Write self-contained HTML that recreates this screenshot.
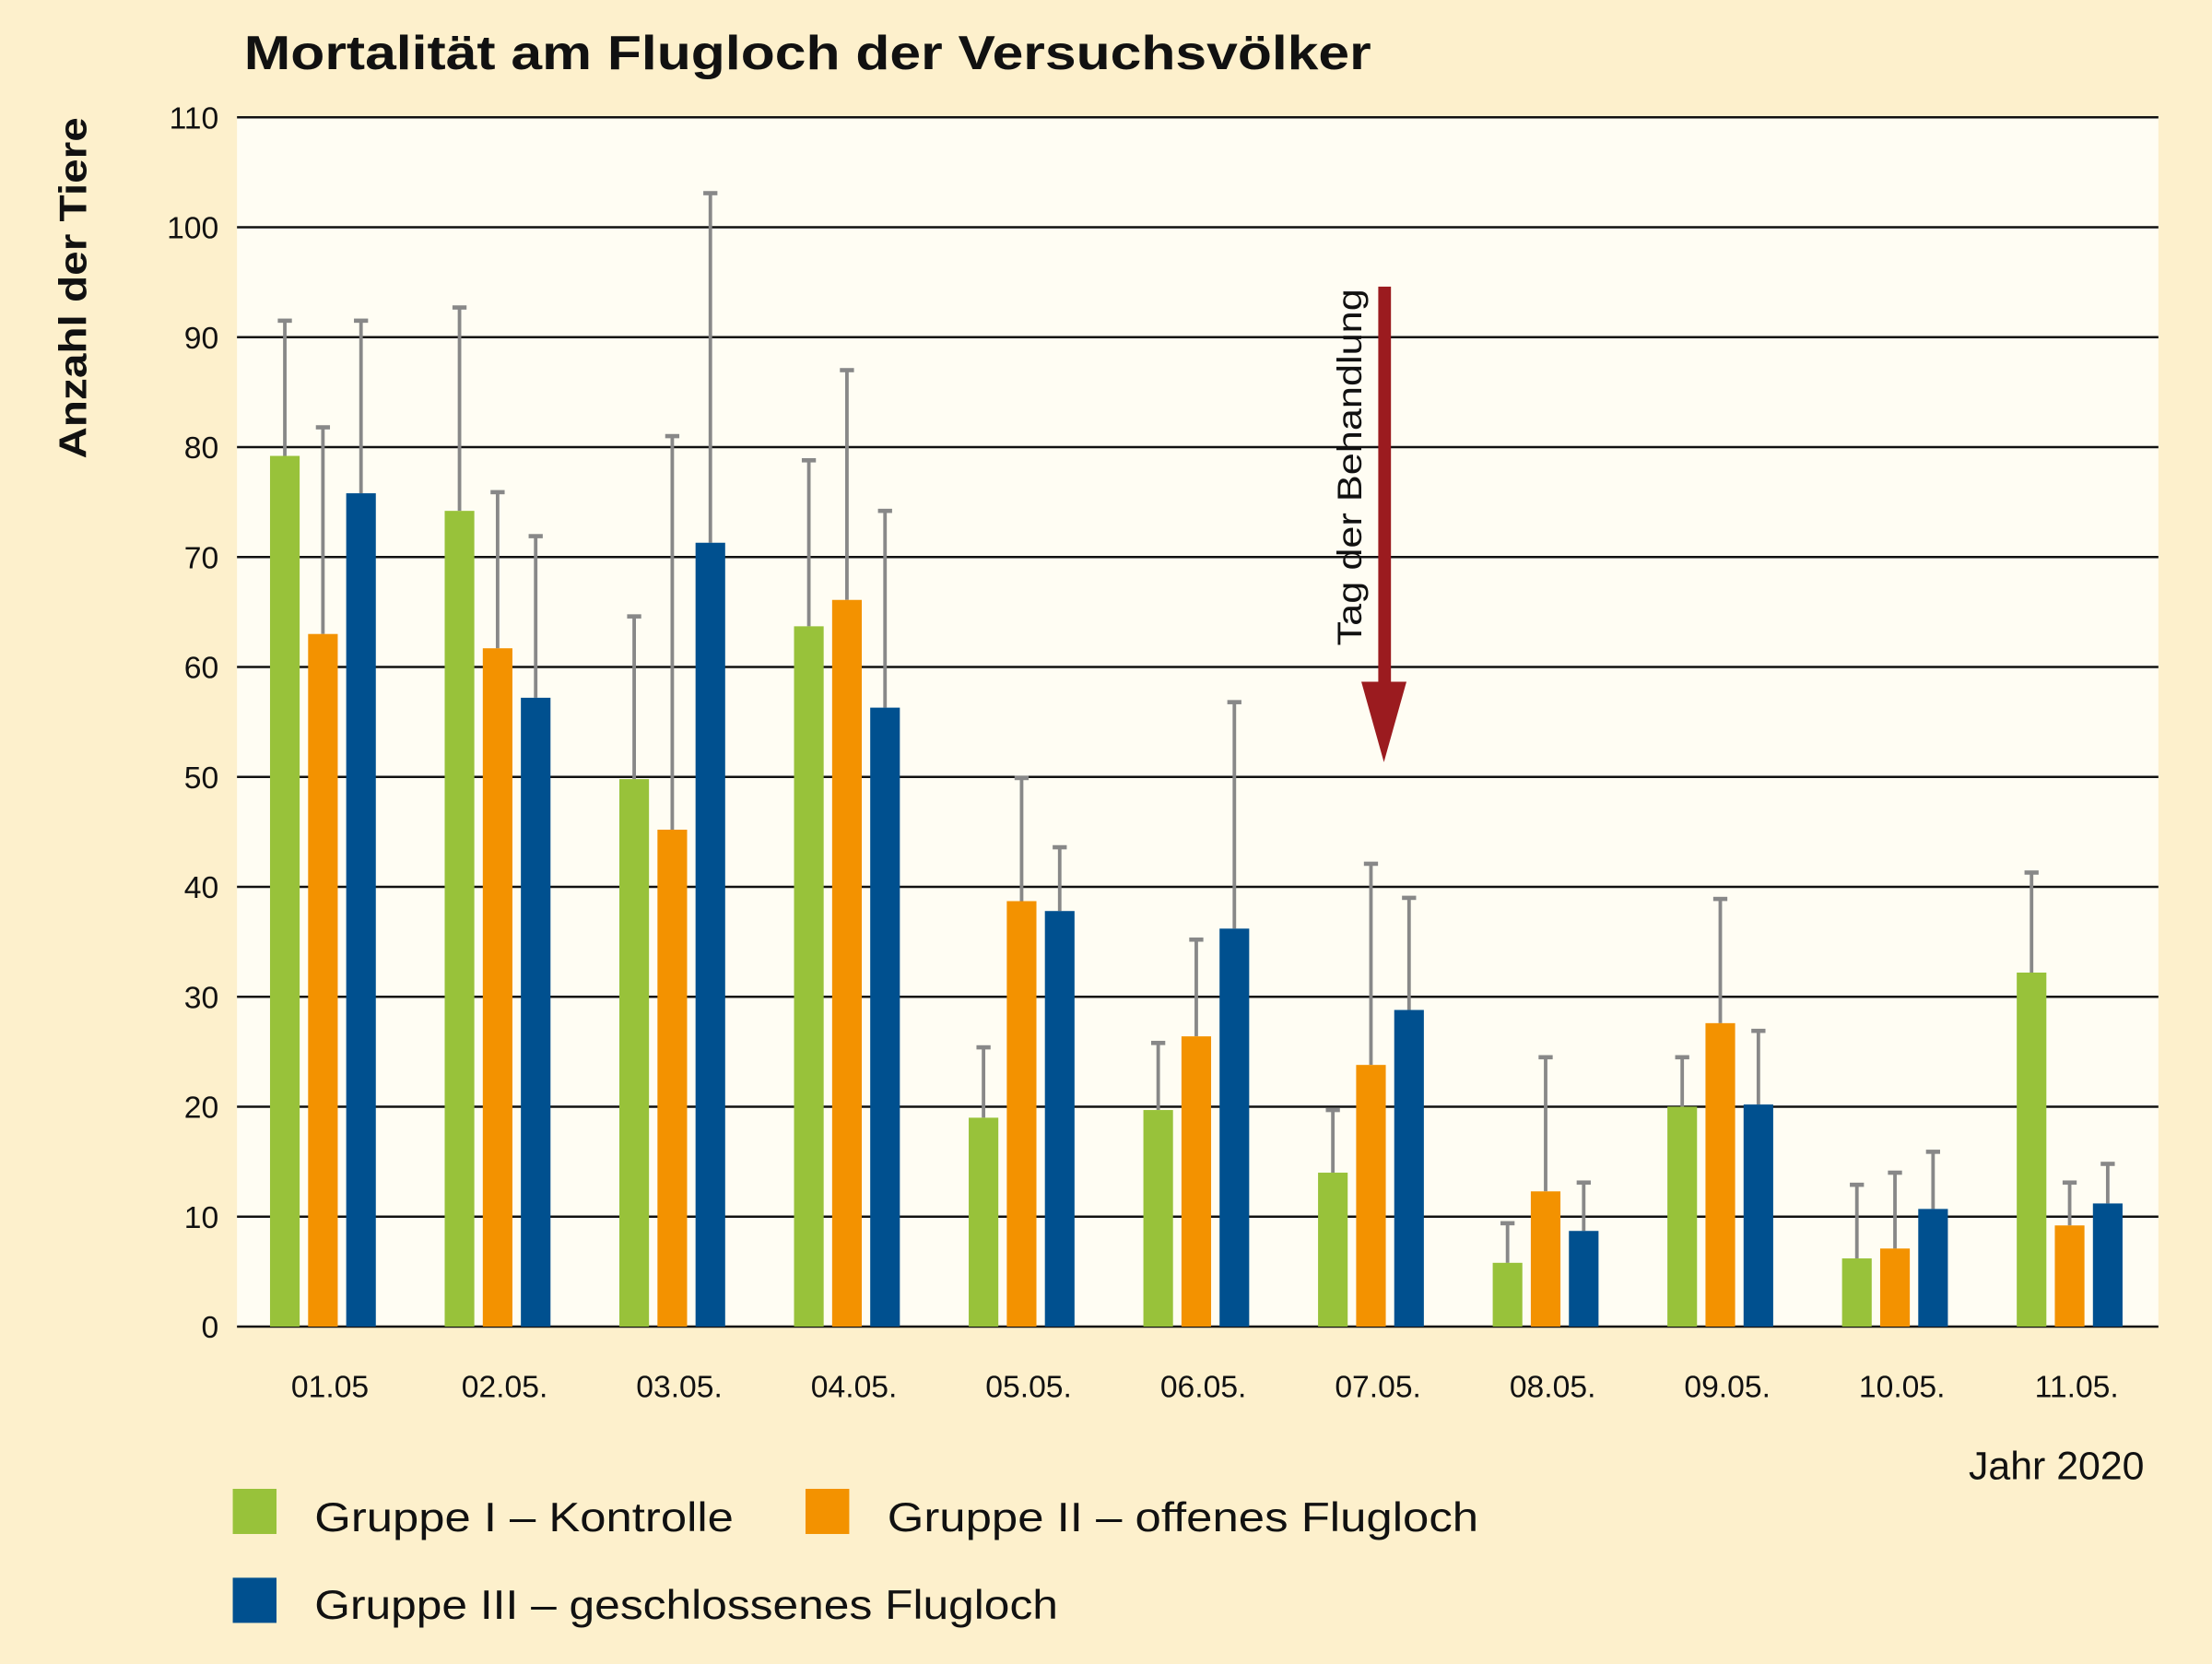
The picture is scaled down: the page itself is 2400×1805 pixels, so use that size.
<!DOCTYPE html>
<html><head><meta charset="utf-8"><style>
html,body{margin:0;padding:0;background:#fdf0cc;}
svg{display:block;font-family:"Liberation Sans",sans-serif;}
</style></head><body>
<svg id="chart" width="2400" height="1805" viewBox="0 0 1568 1179" xmlns="http://www.w3.org/2000/svg">
<rect x="0" y="0" width="1568" height="1179" fill="#fdf0cc"/>
<rect x="168" y="83" width="1362" height="857" fill="#fffdf3"/>
<text x="173" y="49" font-size="34" font-weight="bold" fill="#111" textLength="799" lengthAdjust="spacingAndGlyphs">Mortalität am Flugloch der Versuchsvölker</text>
<text transform="translate(61,204) rotate(-90)" text-anchor="middle" font-size="27" font-weight="bold" fill="#111" textLength="242" lengthAdjust="spacingAndGlyphs">Anzahl der Tiere</text>
<g id="grid"></g><g id="bars"></g><g id="xlabels"></g>
<text x="1520" y="1048" text-anchor="end" font-size="28" fill="#111">Jahr 2020</text>
<g>
<rect x="977" y="203" width="9" height="285" fill="#9b1b1f"/>
<polygon points="965,483 997,483 981,540" fill="#9b1b1f"/>
<text transform="translate(965,331) rotate(-90)" text-anchor="middle" font-size="24" fill="#111" textLength="253" lengthAdjust="spacingAndGlyphs">Tag der Behandlung</text>
</g>
<g>
<rect x="165" y="1055" width="31" height="32" fill="#98c23a"/>
<text x="223" y="1085" font-size="29" fill="#111" textLength="297" lengthAdjust="spacingAndGlyphs">Gruppe I – Kontrolle</text>
<rect x="571" y="1055" width="31" height="32" fill="#f39200"/>
<text x="629" y="1085" font-size="29" fill="#111" textLength="419" lengthAdjust="spacingAndGlyphs">Gruppe II – offenes Flugloch</text>
<rect x="165" y="1118" width="31" height="32" fill="#00508f"/>
<text x="223" y="1147" font-size="29" fill="#111" textLength="527" lengthAdjust="spacingAndGlyphs">Gruppe III – geschlossenes Flugloch</text>
</g>
</svg>
<script>
const categories=["01.05","02.05.","03.05.","04.05.","05.05.","06.05.","07.05.","08.05.","09.05.","10.05.","11.05."];
const group1=[79.2,74.2,49.8,63.7,19.0,19.7,14.0,5.8,20.0,6.2,32.2];
const group1Err=[91.5,92.7,64.6,78.8,25.4,25.8,19.7,9.4,24.5,12.9,41.3];
const group2=[63.0,61.7,45.2,66.1,38.7,26.4,23.8,12.3,27.6,7.1,9.2];
const group2Err=[81.8,75.9,81.0,87.0,49.9,35.2,42.1,24.5,38.9,14.0,13.1];
const group3=[75.8,57.2,71.3,56.3,37.8,36.2,28.8,8.7,20.2,10.7,11.2];
const group3Err=[91.5,71.9,103.1,74.2,43.6,56.8,39.0,13.1,26.9,15.9,14.8];
const yTicks=[0,10,20,30,40,50,60,70,80,90,100,110];
const NS="http://www.w3.org/2000/svg";
const x0=168,x1=1530,yBase=940,yTopPx=83,yMax=110;
const slot=(x1-x0)/categories.length;
function yS(v){return yBase-(v/yMax)*(yBase-yTopPx);}
function xC(i){return x0+slot*(i+0.5);}
function mk(t,a,p){const e=document.createElementNS(NS,t);for(const k in a)e.setAttribute(k,a[k]);p.appendChild(e);return e;}
const grid=document.getElementById('grid');
yTicks.forEach(v=>{
  const l=mk('line',{x1:x0,x2:x1,y1:yS(v),y2:yS(v),stroke:'#111','stroke-width':1.6},grid);
  
  
  const t=mk('text',{x:155,y:yS(v)+8,'text-anchor':'end','font-size':22,fill:'#111'},grid);
  t.textContent=v;
  
  
});
const bars=document.getElementById('bars');
const series=[[group1,group1Err,'#98c23a',-28,'green'],[group2,group2Err,'#f39200',-1,'orange'],[group3,group3Err,'#00508f',26,'blue']];
const bw=21;
categories.forEach((c,i)=>{
  series.forEach(s=>{
    const cx=xC(i)+s[3];
    const top=yS(s[0][i]), et=yS(s[1][i]);
    mk('line',{x1:cx,x2:cx,y1:et,y2:top,stroke:'#888','stroke-width':2.5},bars);
    mk('line',{x1:cx-5,x2:cx+5,y1:et,y2:et,stroke:'#888','stroke-width':3},bars);
    const r=mk('rect',{x:cx-bw/2,y:top,width:bw,height:yBase-top,fill:s[2]},bars);
    
    
  });
  const t=mk('text',{x:xC(i)+4,y:990,'text-anchor':'middle','font-size':22,fill:'#111'},document.getElementById('xlabels'));
  t.textContent=c;
  
  
});
</script>
</body></html>
